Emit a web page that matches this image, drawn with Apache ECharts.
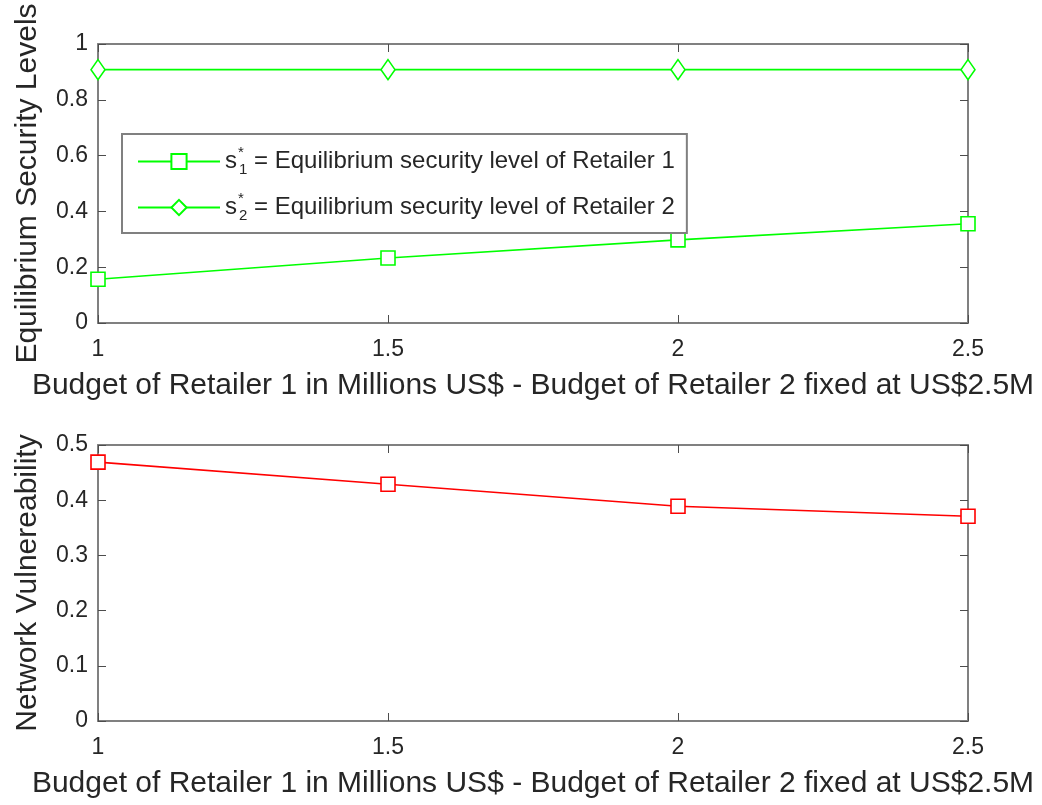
<!DOCTYPE html>
<html>
<head>
<meta charset="utf-8">
<script src="https://cdn.jsdelivr.net/npm/echarts@6/dist/echarts.min.js"></script>
<style>
  html, body { margin: 0; padding: 0; background: #fff; }
  #chart { width: 1042px; height: 805px; }
</style>
</head>
<body>
<div id="chart"></div>
<script>
// Budget of Retailer 1 (millions US$)
const budgets = [1, 1.5, 2, 2.5];
// Equilibrium security levels
const s1Levels = [0.157, 0.233, 0.298, 0.356];
const s2Levels = [0.908, 0.908, 0.908, 0.908];
// Network vulnerability
const vulnerability = [0.469, 0.429, 0.389, 0.371];

const xTitle = 'Budget of Retailer 1 in Millions US$ - Budget of Retailer 2 fixed at US$2.5M';
const topYTitle = 'Equilibrium Security Levels';
const bottomYTitle = 'Network Vulnereability';
const legendText = {
  s1: ' = Equilibrium security level of Retailer 1',
  s2: ' = Equilibrium security level of Retailer 2'
};

const FONT = 'Liberation Sans, Arial, sans-serif';
const TEXT = '#262626';
const BOX = '#808080';
const TICK = '#4d4d4d';

function pairs(ys) { return budgets.map((x, i) => [x, ys[i]]); }

function xAxisDef(grid, pos, showLabels) {
  return {
    type: 'value', gridIndex: grid, position: pos,
    min: 1, max: 2.5, interval: 0.5,
    axisLine: { show: true, onZero: false, lineStyle: { color: BOX, width: 2 } },
    axisTick: { show: true, inside: true, length: 8, lineStyle: { color: TICK, width: 1 } },
    axisLabel: { show: showLabels, color: TEXT, fontSize: 23, fontFamily: FONT, margin: 15 },
    splitLine: { show: false },
    name: showLabels ? xTitle : '',
    nameLocation: 'middle', nameGap: 48,
    nameTextStyle: { color: TEXT, fontSize: 30, fontFamily: FONT }
  };
}

function yAxisDef(grid, pos, max, interval, title) {
  const show = pos === 'left';
  return {
    type: 'value', gridIndex: grid, position: pos,
    min: 0, max: max, interval: interval,
    axisLine: { show: true, onZero: false, lineStyle: { color: BOX, width: 2 } },
    axisTick: { show: true, inside: true, length: 8, lineStyle: { color: TICK, width: 1 } },
    axisLabel: { show: show, color: TEXT, fontSize: 23, fontFamily: FONT, margin: 10 },
    splitLine: { show: false },
    name: show ? title : '',
    nameLocation: 'middle', nameGap: 55,
    nameTextStyle: { color: TEXT, fontSize: 30, fontFamily: FONT }
  };
}

const chart = echarts.init(document.getElementById('chart'), null, { renderer: 'canvas' });

chart.setOption({
  backgroundColor: '#fff',
  animation: false,
  grid: [
    { left: 98, top: 44, width: 870, height: 279 },
    { left: 98, top: 445, width: 870, height: 276 }
  ],
  xAxis: [
    xAxisDef(0, 'bottom', true),
    xAxisDef(0, 'top', false),
    xAxisDef(1, 'bottom', true),
    xAxisDef(1, 'top', false)
  ],
  yAxis: [
    yAxisDef(0, 'left', 1, 0.2, topYTitle),
    yAxisDef(0, 'right', 1, 0.2, ''),
    yAxisDef(1, 'left', 0.5, 0.1, bottomYTitle),
    yAxisDef(1, 'right', 0.5, 0.1, '')
  ],
  legend: {
    data: ['s1', 's2'],
    orient: 'vertical',
    left: 122, top: 134,
    padding: [11, 12, 10, 15],
    itemGap: 14,
    itemWidth: 82, itemHeight: 19,
    borderColor: BOX, borderWidth: 2,
    backgroundColor: '#fff',
    selectedMode: false,
    formatter: name => '{b|s}{sup|*}{sub|' + name.slice(1) + '}{b|' + legendText[name] + '}',
    textStyle: {
      color: TEXT, fontFamily: FONT, fontSize: 24,
      rich: {
        b: { color: TEXT, fontFamily: FONT, fontSize: 24 },
        sup: { color: TEXT, fontFamily: FONT, fontSize: 15, width: 0, padding: [0, 0, 18, 1] },
        sub: { color: TEXT, fontFamily: FONT, fontSize: 15, padding: [16, 0, 0, 1] }
      }
    }
  },
  series: [
    {
      name: 's1', type: 'line', xAxisIndex: 0, yAxisIndex: 0,
      data: pairs(s1Levels),
      symbol: 'rect', symbolSize: 14,
      lineStyle: { color: '#00ff00', width: 1.6 },
      itemStyle: { color: '#ffffff', borderColor: '#00ff00', borderWidth: 1.6 }
    },
    {
      name: 's2', type: 'line', xAxisIndex: 0, yAxisIndex: 0,
      data: pairs(s2Levels),
      symbol: 'diamond', symbolSize: [14, 20],
      lineStyle: { color: '#00ff00', width: 1.6 },
      itemStyle: { color: '#ffffff', borderColor: '#00ff00', borderWidth: 1.6 }
    },
    {
      name: 'vulnerability', type: 'line', xAxisIndex: 2, yAxisIndex: 2,
      data: pairs(vulnerability),
      symbol: 'rect', symbolSize: 14,
      lineStyle: { color: '#ff0000', width: 1.6 },
      itemStyle: { color: '#ffffff', borderColor: '#ff0000', borderWidth: 1.6 }
    }
  ]
});
</script>
</body>
</html>
